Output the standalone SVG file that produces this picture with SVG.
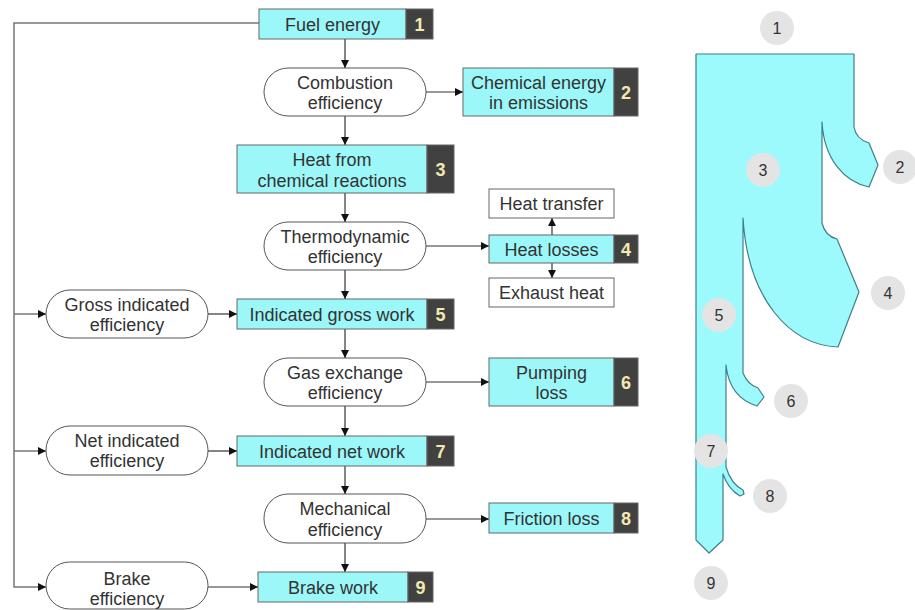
<svg xmlns="http://www.w3.org/2000/svg" width="915" height="610" viewBox="0 0 915 610">
<defs>
<marker id="ah" viewBox="0 0 10 10" refX="10" refY="5" markerWidth="8" markerHeight="8" markerUnits="userSpaceOnUse" orient="auto">
<path d="M0,0 L10,5 L0,10 Z" fill="#111"/>
</marker>
<style>
.t{font-family:"Liberation Sans",Arial,sans-serif;font-size:18px;fill:#333;text-anchor:middle}
.n{font-family:"Liberation Sans",Arial,sans-serif;font-size:18px;font-weight:bold;fill:#f2e9b0;text-anchor:middle}
.c{font-family:"Liberation Sans",Arial,sans-serif;font-size:16px;fill:#333;text-anchor:middle}
.box{fill:#9cf7f9;stroke:#666;stroke-width:1}
.dk{fill:#414141;stroke:#666;stroke-width:1}
.wb{fill:#fff;stroke:#666;stroke-width:1}
.pill{fill:#fff;stroke:#555;stroke-width:1}
.ln{fill:none;stroke:#333;stroke-width:1.2}
.gl{fill:none;stroke:#777;stroke-width:1.5}
.circ{fill:#e4e4e4}
</style>
</defs>
<rect width="915" height="610" fill="#fff"/>

<g id="connectors">
<path class="gl" d="M259,23 H14 V587 H46" marker-end="url(#ah)"/>
<path class="gl" d="M14,314 H46" marker-end="url(#ah)"/>
<path class="gl" d="M14,451 H46" marker-end="url(#ah)"/>
<path class="ln" d="M345,39 V68" marker-end="url(#ah)"/>
<path class="ln" d="M426,92 H463" marker-end="url(#ah)"/>
<path class="ln" d="M345,116 V145" marker-end="url(#ah)"/>
<path class="ln" d="M345,193 V222" marker-end="url(#ah)"/>
<path class="ln" d="M426,246 H489" marker-end="url(#ah)"/>
<path class="ln" d="M552,235 V218" marker-end="url(#ah)"/>
<path class="ln" d="M552,263 V278" marker-end="url(#ah)"/>
<path class="ln" d="M345,270 V299" marker-end="url(#ah)"/>
<path class="ln" d="M208,314 H237" marker-end="url(#ah)"/>
<path class="ln" d="M345,329 V358" marker-end="url(#ah)"/>
<path class="ln" d="M426,382 H489" marker-end="url(#ah)"/>
<path class="ln" d="M345,406 V436" marker-end="url(#ah)"/>
<path class="ln" d="M208,451 H237" marker-end="url(#ah)"/>
<path class="ln" d="M345,466 V494" marker-end="url(#ah)"/>
<path class="ln" d="M426,519 H489" marker-end="url(#ah)"/>
<path class="ln" d="M345,543 V572" marker-end="url(#ah)"/>
<path class="ln" d="M208,587 H258" marker-end="url(#ah)"/>
</g>

<g id="fuel-energy">
<rect class="box" x="259" y="9" width="147" height="30"/>
<rect class="dk" x="406" y="9" width="27" height="30"/>
<text class="t" x="332.5" y="30.5">Fuel energy</text>
<text class="n" x="419.5" y="30.5">1</text>
</g>

<g id="combustion-efficiency">
<rect class="pill" x="264" y="68" width="162" height="48" rx="24"/>
<text class="t" x="345" y="88.5">Combustion</text>
<text class="t" x="345" y="108.5">efficiency</text>
</g>

<g id="chemical-energy">
<rect class="box" x="463" y="68" width="151" height="48"/>
<rect class="dk" x="614" y="68" width="24" height="48"/>
<text class="t" x="538.5" y="89">Chemical energy</text>
<text class="t" x="538.5" y="109">in emissions</text>
<text class="n" x="626" y="98.5">2</text>
</g>

<g id="heat-from-reactions">
<rect class="box" x="237" y="145" width="190" height="48"/>
<rect class="dk" x="427" y="145" width="27" height="48"/>
<text class="t" x="332" y="166">Heat from</text>
<text class="t" x="332" y="187">chemical reactions</text>
<text class="n" x="440.5" y="175.5">3</text>
</g>

<g id="thermodynamic-efficiency">
<rect class="pill" x="264" y="222" width="162" height="48" rx="24"/>
<text class="t" x="345" y="242.5">Thermodynamic</text>
<text class="t" x="345" y="263">efficiency</text>
</g>

<g id="heat-transfer">
<rect class="wb" x="489" y="189" width="125" height="29"/>
<text class="t" x="551.5" y="210">Heat transfer</text>
</g>

<g id="heat-losses">
<rect class="box" x="489" y="235" width="125" height="28"/>
<rect class="dk" x="614" y="235" width="24" height="28"/>
<text class="t" x="551.5" y="255.5">Heat losses</text>
<text class="n" x="626" y="255.5">4</text>
</g>

<g id="exhaust-heat">
<rect class="wb" x="489" y="278" width="125" height="29"/>
<text class="t" x="551.5" y="299">Exhaust heat</text>
</g>

<g id="gross-indicated-efficiency">
<rect class="pill" x="46" y="290" width="162" height="48" rx="24"/>
<text class="t" x="127" y="310.5">Gross indicated</text>
<text class="t" x="127" y="330.5">efficiency</text>
</g>

<g id="indicated-gross-work">
<rect class="box" x="237" y="299" width="190" height="30"/>
<rect class="dk" x="427" y="299" width="27" height="30"/>
<text class="t" x="332" y="320.5">Indicated gross work</text>
<text class="n" x="440.5" y="320.5">5</text>
</g>

<g id="gas-exchange-efficiency">
<rect class="pill" x="264" y="358" width="162" height="48" rx="24"/>
<text class="t" x="345" y="378.5">Gas exchange</text>
<text class="t" x="345" y="398.5">efficiency</text>
</g>

<g id="pumping-loss">
<rect class="box" x="489" y="358" width="125" height="48"/>
<rect class="dk" x="614" y="358" width="24" height="48"/>
<text class="t" x="551.5" y="378.5">Pumping</text>
<text class="t" x="551.5" y="398.5">loss</text>
<text class="n" x="626" y="388.5">6</text>
</g>

<g id="net-indicated-efficiency">
<rect class="pill" x="46" y="426" width="162" height="49" rx="24"/>
<text class="t" x="127" y="446.5">Net indicated</text>
<text class="t" x="127" y="467">efficiency</text>
</g>

<g id="indicated-net-work">
<rect class="box" x="237" y="436" width="190" height="30"/>
<rect class="dk" x="427" y="436" width="27" height="30"/>
<text class="t" x="332" y="457.5">Indicated net work</text>
<text class="n" x="440.5" y="457.5">7</text>
</g>

<g id="mechanical-efficiency">
<rect class="pill" x="264" y="494" width="162" height="49" rx="24"/>
<text class="t" x="345" y="515">Mechanical</text>
<text class="t" x="345" y="535.5">efficiency</text>
</g>

<g id="friction-loss">
<rect class="box" x="489" y="503" width="125" height="30"/>
<rect class="dk" x="614" y="503" width="24" height="30"/>
<text class="t" x="551.5" y="524.5">Friction loss</text>
<text class="n" x="626" y="524.5">8</text>
</g>

<g id="brake-efficiency">
<rect class="pill" x="46" y="562" width="162" height="47" rx="23.5"/>
<text class="t" x="127" y="584.5">Brake</text>
<text class="t" x="127" y="604.5">efficiency</text>
</g>

<g id="brake-work">
<rect class="box" x="258" y="572" width="150" height="30"/>
<rect class="dk" x="408" y="572" width="25" height="30"/>
<text class="t" x="333" y="593.5">Brake work</text>
<text class="n" x="420.5" y="593.5">9</text>
</g>

<g id="sankey">
<path d="M696,54 H854 V127 Q856,139 869,143 L878,165 L869,187 C845,182 824,160 822,122 V223 Q825,236 837,239 L859,292 L838,347 C790,345 748,300 743,218 V373 Q748,385 758,388 L764,397 L757,406 C738,400 728,385 726,365 V467 Q731,484 743,490 L744,494 L740,496 Q728,489 723,474 V540 L709,553 L696,540 Z" fill="#9cf9fc" stroke="#3f7f8a" stroke-width="1.2" stroke-linejoin="round"/>
<circle class="circ" cx="777" cy="28" r="17"/><text class="c" x="777" y="34">1</text>
<circle class="circ" cx="900" cy="167" r="17"/><text class="c" x="900" y="173">2</text>
<circle class="circ" cx="763" cy="170" r="17"/><text class="c" x="763" y="176">3</text>
<circle class="circ" cx="888" cy="293" r="17"/><text class="c" x="888" y="299">4</text>
<circle class="circ" cx="719" cy="315" r="17"/><text class="c" x="719" y="321">5</text>
<circle class="circ" cx="791" cy="401" r="17"/><text class="c" x="791" y="407">6</text>
<circle class="circ" cx="711" cy="451" r="17"/><text class="c" x="711" y="457">7</text>
<circle class="circ" cx="770" cy="496" r="17"/><text class="c" x="770" y="502">8</text>
<circle class="circ" cx="711" cy="583" r="17"/><text class="c" x="711" y="589">9</text>
</g>
</svg>
